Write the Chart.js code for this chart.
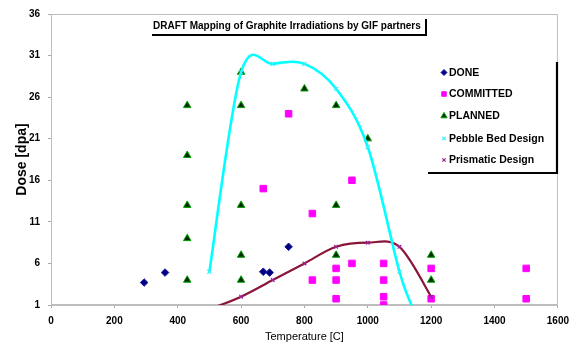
<!DOCTYPE html>
<html>
<head>
<meta charset="utf-8">
<script src="https://cdn.jsdelivr.net/npm/chart.js@4"></script>
<style>
  html, body { margin: 0; padding: 0; background: #fff; }
  #wrap { width: 576px; height: 347px; position: relative; }
</style>
</head>
<body>
<div id="wrap"><canvas id="c" width="576" height="347"></canvas></div>
<script>
// ---- data ----
const doneX = [294, 360, 670, 690, 750];
const doneY = [3.7, 4.9, 5, 4.9, 8];

const committedX = [750, 670, 950, 825, 825, 900, 900, 900, 950, 1050, 1050, 1050, 1050, 1200, 1200, 1500, 1500];
const committedY = [24, 15, 16, 12, 4, 5.4, 4, 1.75, 6, 6, 4, 2, 1, 5.4, 1.75, 5.4, 1.75];

const plannedX = [430, 430, 430, 430, 430, 600, 600, 600, 600, 600, 800, 900, 900, 900, 1000, 1200, 1200];
const plannedY = [25, 19, 13, 9, 4, 29, 25, 13, 7, 4, 27, 25, 13, 7, 21, 7, 4];

const pebbleX = [500, 600, 700, 800, 900, 1000, 1100, 1150];
const pebbleY = [5, 29, 30, 30, 27, 20, 5, 0];

const prismX = [500, 600, 700, 800, 900, 1000, 1100, 1200];
const prismY = [0.5, 2, 4, 6, 8, 8.5, 8, 2];

const xTicks = [0, 200, 400, 600, 800, 1000, 1200, 1400, 1600];
const yTicks = [1, 6, 11, 16, 21, 26, 31, 36];

const seriesNames = ['DONE', 'COMMITTED', 'PLANNED', 'Pebble Bed Design', 'Prismatic Design'];
const chartTitle = 'DRAFT Mapping of Graphite Irradiations by GIF partners';

function pts(xs, ys) { return xs.map((x, i) => ({ x: x, y: ys[i] })); }

const FONT = "'Liberation Sans', Arial, sans-serif";

// chart area frame
const framePlugin = {
  id: 'frame',
  beforeDatasetsDraw(chart) {
    const { ctx, chartArea: a } = chart;
    ctx.save();
    ctx.strokeStyle = '#bdbdbd';
    ctx.lineWidth = 1;
    ctx.strokeRect(a.left + 0.5, a.top + 0.5, a.right - a.left - 1, a.bottom - a.top - 1);
    ctx.restore();
  }
};

// Excel-like smoothing: uniform Catmull-Rom control points on the library's own line points
const smoothPlugin = {
  id: 'smooth',
  beforeDatasetDraw(chart, args) {
    const meta = args.meta;
    const line = meta.dataset;
    if (!line || !chart.data.datasets[args.index].showLine) return;
    const p = meta.data;
    const n = p.length;
    for (let i = 0; i < n; i++) {
      const prev = p[Math.max(0, i - 1)];
      const next = p[Math.min(n - 1, i + 1)];
      const dx = (next.x - prev.x) / 6;
      const dy = (next.y - prev.y) / 6;
      p[i].cp1x = p[i].x - dx; p[i].cp1y = p[i].y - dy;
      p[i].cp2x = p[i].x + dx; p[i].cp2y = p[i].y + dy;
    }
    line._pointsUpdated = true;
    line._path = undefined;
  }
};

// title box and legend box
const boxesPlugin = {
  id: 'boxes',
  afterDraw(chart) {
    const ctx = chart.ctx;
    ctx.save();
    // title box
    ctx.fillStyle = '#000';
    ctx.font = 'bold 10px ' + FONT;
    ctx.textBaseline = 'middle';
    ctx.textAlign = 'left';
    ctx.fillText(chartTitle, 153, 26);
    ctx.strokeStyle = '#000';
    ctx.lineWidth = 2;
    ctx.beginPath();
    ctx.moveTo(152, 35); ctx.lineTo(427, 35);
    ctx.moveTo(426, 19); ctx.lineTo(426, 36);
    ctx.stroke();

    // legend box
    ctx.lineWidth = 2.2;
    ctx.beginPath();
    ctx.moveTo(428, 173); ctx.lineTo(558, 173);
    ctx.moveTo(557, 62); ctx.lineTo(557, 174);
    ctx.stroke();

    const ys = [72.5, 94, 116, 138.5, 160];
    const markerR = [3, 3.2, 3.6, 2.4, 2.4];
    ctx.font = 'bold 10.5px ' + FONT;
    chart.data.datasets.forEach((ds, i) => {
      const opts = {
        pointStyle: ds.pointStyle,
        radius: markerR[i],
        borderWidth: ds.pointBorderWidth || 1,
        rotation: 0
      };
      ctx.fillStyle = ds.pointBackgroundColor;
      ctx.strokeStyle = ds.pointBorderColor;
      ctx.lineWidth = opts.borderWidth;
      Chart.helpers.drawPoint(ctx, opts, 444, ys[i]);
      ctx.fillStyle = '#000';
      ctx.textBaseline = 'middle';
      ctx.fillText(ds.label, 449, ys[i] + 0.5);
    });
    ctx.restore();
  }
};

new Chart(document.getElementById('c'), {
  type: 'scatter',
  data: {
    datasets: [
      {
        label: seriesNames[0], data: pts(doneX, doneY),
        pointStyle: 'rectRot', pointRadius: 3.8,
        pointBackgroundColor: '#000080', pointBorderColor: '#1a1aa0', pointBorderWidth: 1,
        showLine: false, order: 2
      },
      {
        label: seriesNames[1], data: pts(committedX, committedY),
        pointStyle: 'rect', pointRadius: 4.6,
        pointBackgroundColor: '#ff00ff', pointBorderColor: '#ff00ff', pointBorderWidth: 1,
        showLine: false, order: 2
      },
      {
        label: seriesNames[2], data: pts(plannedX, plannedY),
        pointStyle: 'triangle', pointRadius: 4.3,
        pointBackgroundColor: '#002a00', pointBorderColor: '#00a000', pointBorderWidth: 1,
        showLine: false, order: 2
      },
      {
        label: seriesNames[3], data: pts(pebbleX, pebbleY),
        pointStyle: 'crossRot', pointRadius: 2.8,
        pointBackgroundColor: '#33eeff', pointBorderColor: '#33eeff', pointBorderWidth: 1.2,
        showLine: true, borderColor: '#00ffff', borderWidth: 2.6, tension: 0.4,
        order: 1
      },
      {
        label: seriesNames[4], data: pts(prismX, prismY),
        pointStyle: 'crossRot', pointRadius: 2.6,
        pointBackgroundColor: '#a020a0', pointBorderColor: '#a020a0', pointBorderWidth: 1.2,
        showLine: true, borderColor: '#8b1538', borderWidth: 2.2, tension: 0.4,
        order: 1
      }
    ]
  },
  options: {
    responsive: false,
    animation: false,
    devicePixelRatio: 1,
    layout: { padding: { left: 0, right: 11, top: 14, bottom: 0 } },
    plugins: {
      legend: { display: false },
      tooltip: { enabled: false },
      title: { display: false }
    },
    scales: {
      x: {
        type: 'linear', min: 0, max: 1600,
        afterBuildTicks(scale) { scale.ticks = xTicks.map(v => ({ value: v })); },
        afterFit(scale) { scale.height = 42; },
        grid: { display: true, drawOnChartArea: false, drawTicks: true, tickLength: 3, color: '#aaaaaa' },
        border: { display: true, color: '#bdbdbd' },
        ticks: { color: '#000', font: { family: FONT, size: 10, weight: 'bold' }, padding: 7, maxRotation: 0,
                 callback: v => String(v) },
        title: { display: true, text: 'Temperature [C]', color: '#000',
                 font: { family: FONT, size: 11, weight: 'normal' }, padding: { top: 0, bottom: 3.5 } }
      },
      y: {
        type: 'linear', min: 1, max: 36,
        afterBuildTicks(scale) { scale.ticks = yTicks.map(v => ({ value: v })); },
        afterFit(scale) { scale.width = 51; },
        grid: { display: true, drawOnChartArea: false, drawTicks: true, tickLength: 3, color: '#aaaaaa' },
        border: { display: true, color: '#bdbdbd' },
        ticks: { color: '#000', font: { family: FONT, size: 10, weight: 'bold' }, padding: 8,
                 callback: v => String(v) },
        title: { display: true, text: 'Dose [dpa]', color: '#000',
                 font: { family: FONT, size: 14, weight: 'bold' }, padding: { top: 13.5, bottom: 0 } }
      }
    }
  },
  plugins: [framePlugin, smoothPlugin, boxesPlugin]
});
</script>
</body>
</html>
